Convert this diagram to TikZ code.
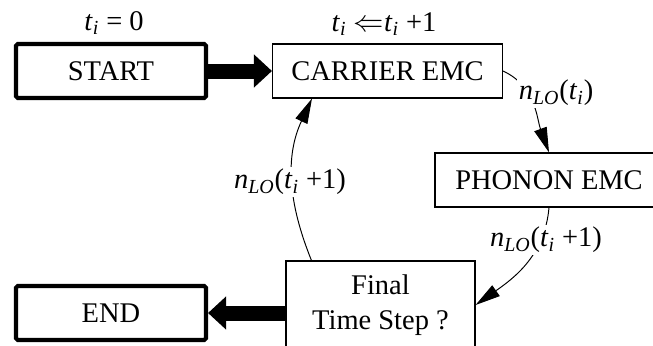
\documentclass[tikz,border=0pt]{standalone}
\usepackage{amsmath}
\usepackage{fontspec}
\setmainfont{Liberation Serif}
\usetikzlibrary{arrows.meta,positioning}
\newcommand{\boxfont}{\fontsize{16.2}{20}\selectfont}
\newcommand{\ti}{\textit{t}$_{\textit{i}}$}
\newcommand{\nlo}{\textit{n}$_{\textit{LO}}$}
\tikzset{
  stage/.style={draw=black,line width=0.6pt,align=center,inner sep=0pt,
    minimum height=1.08cm},
  term/.style={draw=black,line width=2.3pt,rounded corners=1pt,
    minimum width=3.8cm,minimum height=1.08cm},
  fat/.style={line width=0.3cm,-{Triangle[length=0.36cm,width=0.64cm]}},
  flow/.style={line width=0.55pt,-{Triangle[length=0.5cm,width=0.26cm]}},
  tag/.style={fill=white,inner sep=1pt},
}

\begin{document}
\begin{tikzpicture}[every node/.style={font=\boxfont}]
  \clip (0,0) rectangle (13.06,-6.9);
  % start / end terminals
  \node[term] (start) at (2.22,-1.42) {START};
  \node[term] (endn) at (2.22,-6.26) {END};
  \node at (2.28,-0.46) (tzero) {\ti{} = 0};

  % the time step loop
  \node[stage,minimum width=4.6cm] (carrier) at (7.75,-1.42) {CARRIER EMC};
  \node at (7.68,-0.48) (tstep) {\ti{} $\Leftarrow$\ti{} +1};
  \node[stage,minimum width=4.56cm] (phonon) at (10.98,-3.6) {PHONON EMC};
  \node[stage,minimum width=3.78cm,minimum height=1.76cm] (final) at (7.61,-6.1)
     {Final\\Time Step ?};

  \draw[fat] (start) -- (carrier);
  \draw[fat] (final.west |- endn.east) -- (endn);

  \draw[flow] (carrier.east) to[out=-25,in=110] (phonon.north);
  \draw[flow] (phonon.south) to[out=-95,in=35] (final.east);
  \draw[flow] ([xshift=0.52cm]final.north west) to[out=112,in=-115]
     ([xshift=0.8cm]carrier.south west);

  % exchanged phonon numbers
  \node[tag] (nnow) at (11.12,-1.86) {\nlo(\ti)};
  \node[tag] (nnext) at (10.92,-4.8) {\nlo(\ti{} +1)};
  \node[tag] (nback) at (5.8,-3.64) {\nlo(\ti{} +1)};
\end{tikzpicture}
\end{document}
